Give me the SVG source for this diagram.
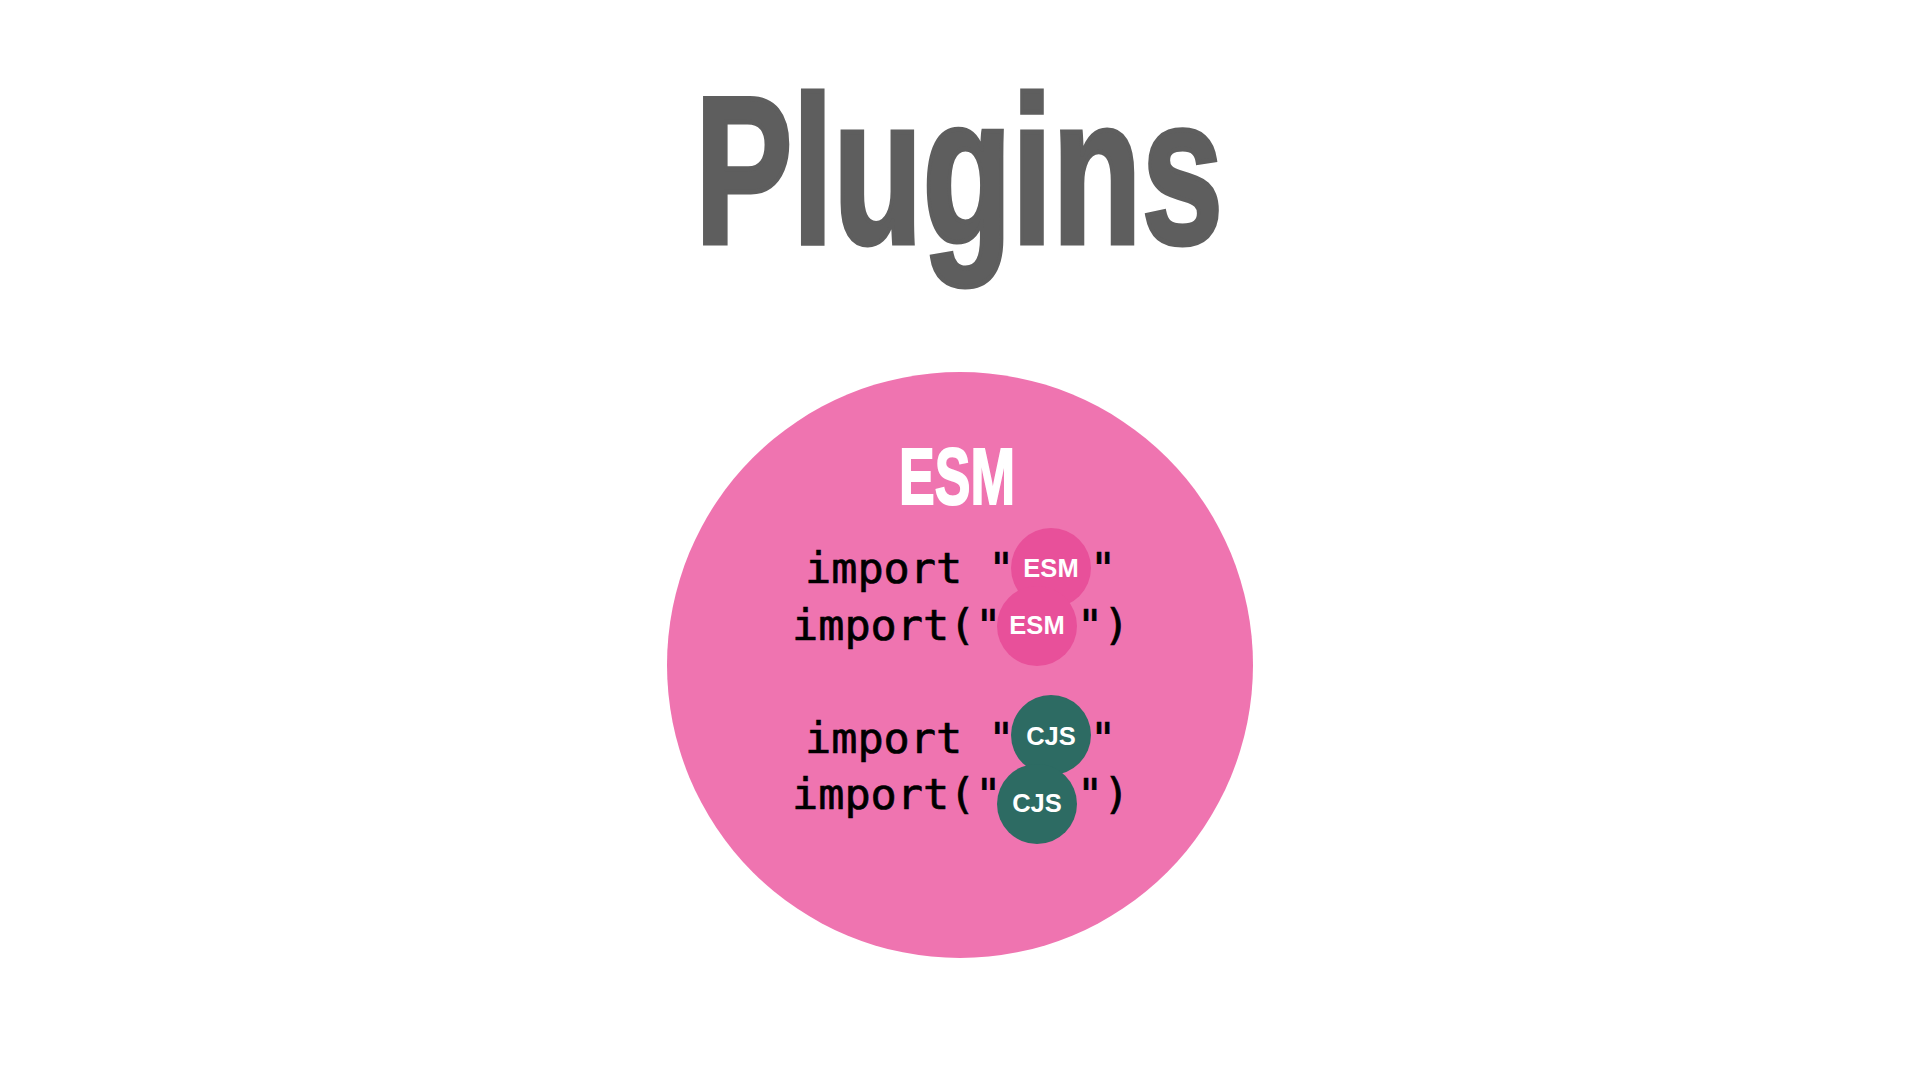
<svg xmlns="http://www.w3.org/2000/svg" width="1920" height="1080" viewBox="0 0 1920 1080">
<style>
.title{font-family:"Liberation Sans",Arial,sans-serif;font-weight:bold;fill:#5e5e5e;stroke:#5e5e5e;stroke-width:5;stroke-linejoin:miter}
.head{font-family:"Liberation Sans",Arial,sans-serif;font-weight:bold;fill:#ffffff;stroke:#ffffff;stroke-width:2}
.code{font-family:"DejaVu Sans Mono","Liberation Mono",monospace;font-size:43.5px;fill:#000000;stroke:#000000;stroke-width:0.7}
.badge{font-family:"Liberation Sans",Arial,sans-serif;font-weight:bold;font-size:25.5px;fill:#ffffff;text-anchor:middle}
.esm{fill:#e8509a}
.cjs{fill:#2d6b63}
</style>
<rect width="1920" height="1080" fill="#ffffff"/>
<text id="title" class="title" x="695" y="243" font-size="210" textLength="528" lengthAdjust="spacingAndGlyphs">Plugins</text>
<g id="esm-scope">
<circle cx="960" cy="665" r="293" fill="#ef74b0"/>
<text class="head" x="899" y="504" font-size="79" textLength="116" lengthAdjust="spacingAndGlyphs">ESM</text>
</g>
<g id="line-esm-1">
<text class="code" x="805" y="583">import "</text>
<text class="code" x="1090" y="583">"</text>
<circle class="esm" cx="1051" cy="568" r="40"/>
<text class="badge" x="1051" y="577">ESM</text>
</g>
<g id="line-esm-2">
<text class="code" x="792" y="640">import("</text>
<text class="code" x="1077" y="640">")</text>
<circle class="esm" cx="1037" cy="626" r="40"/>
<text class="badge" x="1037" y="634">ESM</text>
</g>
<g id="line-cjs-1">
<text class="code" x="805" y="753">import "</text>
<text class="code" x="1090" y="753">"</text>
<circle class="cjs" cx="1051" cy="735" r="40"/>
<text class="badge" x="1051" y="745">CJS</text>
</g>
<g id="line-cjs-2">
<text class="code" x="792" y="809">import("</text>
<text class="code" x="1077" y="809">")</text>
<circle class="cjs" cx="1037" cy="804" r="40"/>
<text class="badge" x="1037" y="812">CJS</text>
</g>
<g id="connectors"/>
</svg>
